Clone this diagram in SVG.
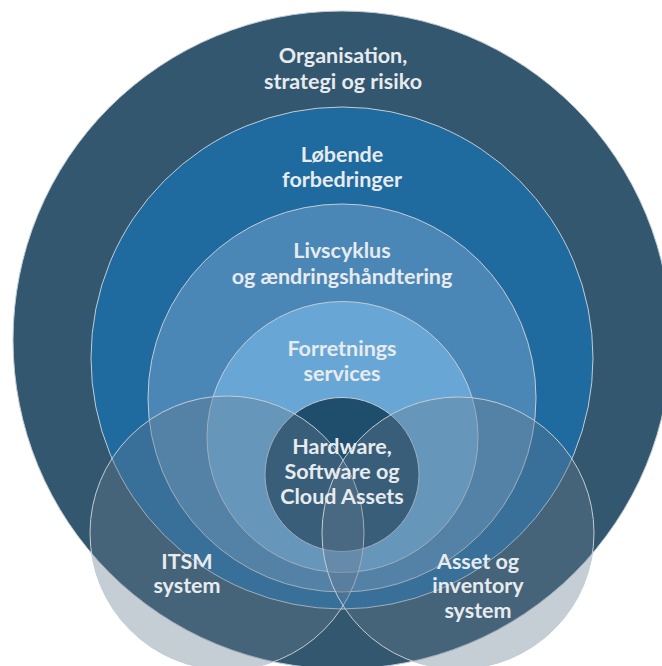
<svg xmlns="http://www.w3.org/2000/svg" width="662" height="666" viewBox="0 0 662 666">
<style>
.ring{stroke:#c3ccd5;stroke-width:1}
.ov{fill:#647a8f;fill-opacity:0.375;stroke:#c3ccd5;stroke-width:1}
.lbl{font-family:Lato,"Liberation Sans",sans-serif;font-weight:700;font-size:21.5px;fill:#e8ebee;text-anchor:middle}
</style>
<rect width="662" height="666" fill="#ffffff"/>
<g id="organisation">
<circle class="ring" cx="342" cy="340" r="329" fill="#33576e"/>
<text class="lbl" x="343" y="63">Organisation,</text>
<text class="lbl" x="343" y="89">strategi og risiko</text>
</g>
<g id="loebende">
<circle class="ring" cx="342" cy="358" r="251" fill="#1f6a9f"/>
<text class="lbl" x="342" y="162">Løbende</text>
<text class="lbl" x="342" y="187">forbedringer</text>
</g>
<g id="livscyklus">
<circle class="ring" cx="342" cy="398" r="194" fill="#4a87b6"/>
<text class="lbl" x="342" y="258">Livscyklus</text>
<text class="lbl" x="342" y="284">og ændringshåndtering</text>
</g>
<g id="forretnings">
<circle class="ring" cx="342.5" cy="437" r="135.5" fill="#68a7d5"/>
<text class="lbl" x="342" y="356">Forretnings</text>
<text class="lbl" x="342" y="381">services</text>
</g>
<g id="hardware">
<circle class="ring" cx="342" cy="474.5" r="77" fill="#1e4e6c"/>
</g>
<g id="itsm">
<circle class="ov" cx="227" cy="533" r="137"/>
</g>
<g id="asset">
<circle class="ov" cx="458" cy="533" r="136"/>
</g>
<g id="labels">
<text class="lbl" x="342" y="454">Hardware,</text>
<text class="lbl" x="342" y="479">Software og</text>
<text class="lbl" x="342" y="504">Cloud Assets</text>
<text class="lbl" x="187" y="569">ITSM</text>
<text class="lbl" x="187" y="593">system</text>
<text class="lbl" x="478" y="569">Asset og</text>
<text class="lbl" x="478" y="593">inventory</text>
<text class="lbl" x="478" y="618">system</text>
</g>
<g id="connectors"></g>
</svg>
